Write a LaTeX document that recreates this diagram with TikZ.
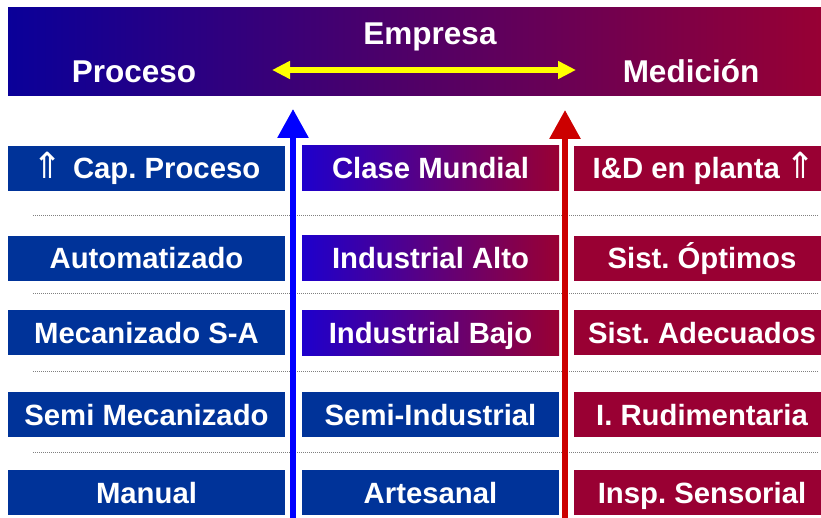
\documentclass[tikz,border=0pt]{standalone}
\usepackage{fontspec}
\setmainfont{Liberation Sans}
\newfontfamily\symfont{DejaVu Sans}
\usetikzlibrary{arrows.meta}
\frenchspacing
\definecolor{procblue}{RGB}{0,51,153}
\definecolor{medred}{RGB}{153,0,51}
\definecolor{banL}{RGB}{10,0,153}
\definecolor{banR}{RGB}{153,0,51}
\definecolor{gradL}{RGB}{30,0,204}
\definecolor{arrblue}{RGB}{0,0,255}
\definecolor{arrred}{RGB}{204,0,0}
\definecolor{arryel}{RGB}{255,255,0}
\newcommand{\uparr}{{\symfont\mdseries\fontsize{36}{36}\selectfont ⇑}}
\begin{document}
\begin{tikzpicture}[x=1pt,y=-1pt,
  box/.style={minimum height=45pt, inner sep=0pt, text=white,
    font=\fontsize{29.3}{31}\selectfont\bfseries, text height=21pt, text depth=0pt},
  pbox/.style={box, minimum width=277pt, fill=procblue},
  ebox/.style={box, minimum width=257pt, left color=gradL, right color=medred},
  eboxb/.style={box, minimum width=257pt, fill=procblue},
  mbox/.style={box, minimum width=256pt, fill=medred},
  bantext/.style={text=white, font=\fontsize{31.5}{33}\selectfont\bfseries, inner sep=0pt, anchor=base},
  dotline/.style={gray, line width=0.9pt, dash pattern=on 1pt off 1pt},
  bigarrow/.style={line width=6pt, -{Triangle[width=30pt,length=29pt]}}
]
\useasboundingbox (0,0) rectangle (821,518);
\clip (0,0) rectangle (821,518);

% banner
\shade[left color=banL, right color=banR] (8,8) rectangle (830,96);
\node[bantext] (emp) at (430,45) {Empresa};
\node[bantext] (proc) at (134,83) {Proceso};
\node[bantext] (med) at (691,83) {Medición};
\coordinate (ya) at (272,70);
\coordinate (yb) at (576,70);
\draw[arryel, line width=6pt, {Triangle[width=17pt,length=18pt]}-{Triangle[width=17pt,length=18pt]}] (ya) -- (yb);

% dotted separators
\foreach \yy in {215,293,371,452} \draw[dotline] (33,\yy) -- (818,\yy);

% left column
\node[pbox] (p1) at (146.5,168.5) {\uparr\hspace{2pt} Cap. Proceso};
\node[pbox] (p2) at (146.5,258.5) {Automatizado};
\node[pbox] (p3) at (146.5,332.5) {Mecanizado S-A};
\node[pbox] (p4) at (146.5,414.5) {Semi Mecanizado};
\node[pbox] (p5) at (146.5,492.5) {Manual};

% middle column
\node[ebox] (e1) at (430.5,168.5) {Clase Mundial};
\node[ebox] (e2) at (430.5,258.5) {Industrial Alto};
\node[ebox] (e3) at (430.5,332.5) {Industrial Bajo};
\node[eboxb] (e4) at (430.5,414.5) {Semi-Industrial};
\node[eboxb] (e5) at (430.5,492.5) {Artesanal};

% right column
\node[mbox, minimum width=260pt] (m1) at (704,168.5) {I\&D en planta\hspace{-3pt} \uparr};
\node[mbox] (m2) at (702,258.5) {Sist. Óptimos};
\node[mbox] (m3) at (702,332.5) {Sist. Adecuados};
\node[mbox] (m4) at (702,414.5) {I. Rudimentaria};
\node[mbox] (m5) at (702,492.5) {Insp. Sensorial};

% vertical arrows
\coordinate (bb) at (293,530);
\coordinate (bt) at (293,109);
\coordinate (rb) at (565,530);
\coordinate (rt) at (565,110);
\draw[bigarrow, arrblue] (bb) -- (bt);
\draw[bigarrow, arrred] (rb) -- (rt);
\end{tikzpicture}
\end{document}
